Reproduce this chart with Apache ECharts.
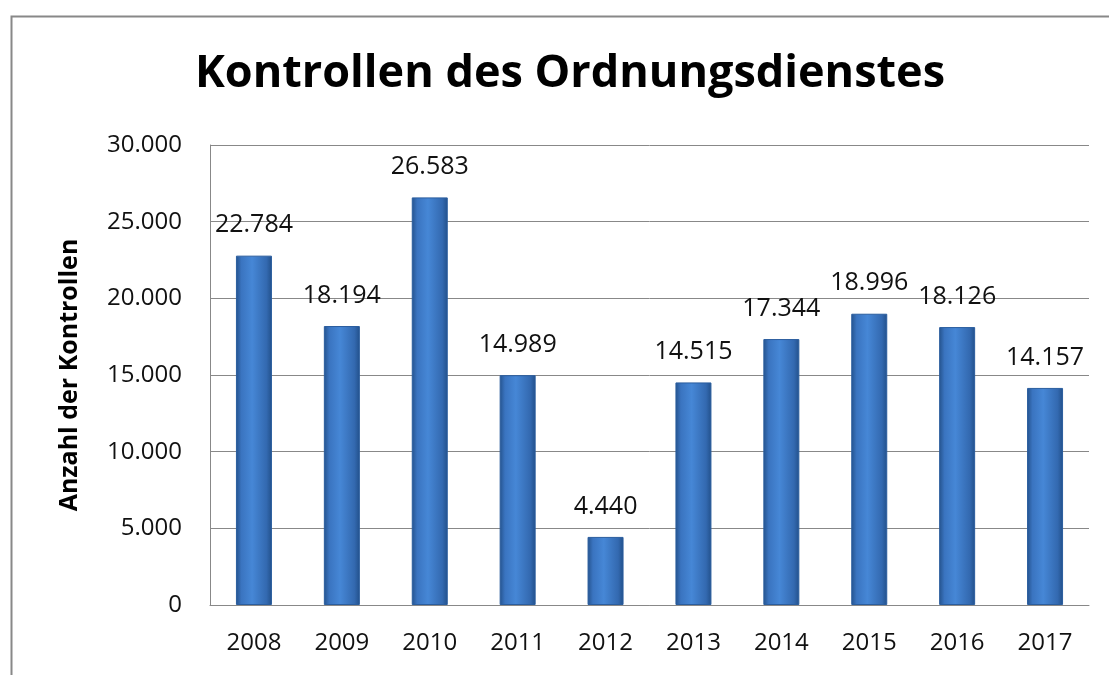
<!DOCTYPE html>
<html lang="de">
<head>
    <meta charset="UTF-8">
    <title>Kontrollen des Ordnungsdienstes</title>
    <style>
        body{margin:0;background:#fff;}
        #main{width:1109px;height:675px;}
    </style>
</head>
<body>
<div id="main"></div>
<script src="https://cdn.jsdelivr.net/npm/echarts@6/dist/echarts.min.js"></script>
<script>
    // Daten
    var jahre = ['2008','2009','2010','2011','2012','2013','2014','2015','2016','2017'];
    var kontrollen = [22784, 18194, 26583, 14989, 4440, 14515, 17344, 18996, 18126, 14157];
    var yTicks = [0, 5000, 10000, 15000, 20000, 25000, 30000];

    // deutsche Tausendertrennung
    function fmt(v){
        return String(v).replace(/\B(?=(\d{3})+(?!\d))/g, '.');
    }

    var myChart = echarts.init(document.getElementById('main'));

    var barColor = new echarts.graphic.LinearGradient(0, 0, 1, 0, [
        {offset: 0, color: '#24528c'},
        {offset: 0.15, color: '#3a74c0'},
        {offset: 0.45, color: '#4687d6'},
        {offset: 0.85, color: '#3369b0'},
        {offset: 1, color: '#22508a'}
    ]);

    var option = {
        backgroundColor: '#fff',
        textStyle: {fontFamily: 'Open Sans'},
        graphic: [{
            type: 'rect',
            left: 9, top: 14,
            shape: {width: 1200, height: 800},
            style: {fill: 'none', stroke: '#888', lineWidth: 2},
            silent: true
        }],
        title: {
            text: 'Kontrollen des Ordnungsdienstes',
            left: 565,
            textAlign: 'center',
            top: 47,
            textStyle: {fontSize: 45, fontWeight: 'bold', color: '#000', fontFamily: 'Open Sans'}
        },
        grid: {left: 210, right: 20, top: 145, bottom: 70},
        xAxis: {
            type: 'category',
            data: jahre,
            axisLine: {lineStyle: {color: '#888'}},
            axisTick: {show: false},
            axisLabel: {color: '#111', fontSize: 24, margin: 26}
        },
        yAxis: {
            type: 'value',
            min: yTicks[0],
            max: yTicks[yTicks.length - 1],
            interval: 5000,
            name: 'Anzahl der Kontrollen',
            nameLocation: 'middle',
            nameGap: 128,
            nameTextStyle: {fontSize: 25, fontWeight: 'bold', color: '#000'},
            axisLine: {show: true, lineStyle: {color: '#888'}},
            axisTick: {show: false},
            axisLabel: {color: '#111', fontSize: 24, margin: 28, formatter: fmt},
            splitLine: {lineStyle: {color: '#888'}}
        },
        series: [{
            type: 'bar',
            data: kontrollen,
            barWidth: 36,
            itemStyle: {color: barColor, borderColor: '#2a5d9e', borderWidth: 1},
            label: {
                show: true,
                position: 'top',
                distance: 18,
                fontSize: 25,
                color: '#111',
                formatter: function(p){ return fmt(p.value); }
            }
        }]
    };

    myChart.setOption(option);
</script>
</body>
</html>
